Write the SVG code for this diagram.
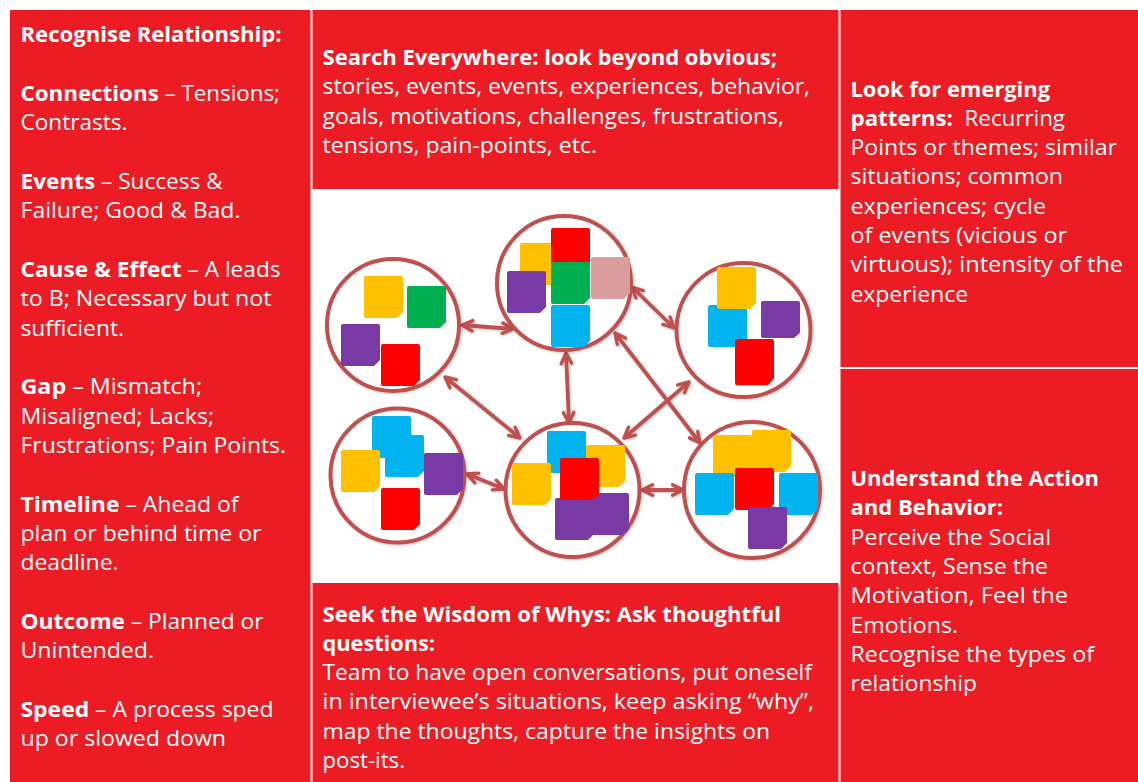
<svg xmlns="http://www.w3.org/2000/svg" xmlns:xlink="http://www.w3.org/1999/xlink" width="1138" height="782" viewBox="0 0 1138 782">
<defs>
<style>
.cell{fill:#ED1C24}
.t{font-family:"Open Sans","Liberation Sans",sans-serif;font-size:22px;fill:#FFFFFF}
.b{font-weight:bold}
.ring{fill:#FFFFFF;stroke:#C0504D;stroke-width:4;filter:url(#sh)}
.arr{fill:none;stroke:#C0504D;stroke-width:3.8;marker-start:url(#ah);marker-end:url(#ah)}
.y{fill:#FFC000}.g{fill:#00B050}.p{fill:#7A3AA6}.r{fill:#FF0000}.bl{fill:#00B4F0}.pk{fill:#DA9C9C}
</style>
<filter id="sh" x="-10%" y="-10%" width="120%" height="120%">
<feDropShadow dx="0.8" dy="0.8" stdDeviation="0.9" flood-color="#000000" flood-opacity="0.25"/>
</filter>
<marker id="ah" viewBox="0 0 14 14" refX="12.5" refY="7" markerWidth="14" markerHeight="14" markerUnits="userSpaceOnUse" orient="auto-start-reverse">
<path d="M2,1.8 L12.5,7 L2,12.2" fill="none" stroke="#C0504D" stroke-width="3.4" stroke-linecap="round" stroke-linejoin="round"/>
</marker>
<path id="note" d="M2,0 H37 Q39,0 39,2 V36 L33,42 H2 Q0,42 0,40 V2 Q0,0 2,0 Z"/>
</defs>
<rect width="1138" height="782" fill="#FFFFFF"/>

<g id="cell-left">
<rect class="cell" x="10" y="10" width="300.5" height="772"/>
<text class="t" x="20.5" y="42" textLength="261" lengthAdjust="spacingAndGlyphs"><tspan class="b">Recognise Relationship:</tspan></text>
<text class="t" x="20.5" y="100.7" textLength="259.5" lengthAdjust="spacingAndGlyphs"><tspan class="b">Connections</tspan> – Tensions;</text>
<text class="t" x="20.5" y="130" textLength="107" lengthAdjust="spacingAndGlyphs">Contrasts.</text>
<text class="t" x="20.5" y="188.8" textLength="202" lengthAdjust="spacingAndGlyphs"><tspan class="b">Events</tspan> – Success &amp;</text>
<text class="t" x="20.5" y="218.1" textLength="220" lengthAdjust="spacingAndGlyphs">Failure; Good &amp; Bad.</text>
<text class="t" x="20.5" y="276.8" textLength="260" lengthAdjust="spacingAndGlyphs"><tspan class="b">Cause &amp; Effect</tspan> – A leads</text>
<text class="t" x="20.5" y="306.2" textLength="251" lengthAdjust="spacingAndGlyphs">to B; Necessary but not</text>
<text class="t" x="20.5" y="335.5" textLength="103.5" lengthAdjust="spacingAndGlyphs">sufficient.</text>
<text class="t" x="20.5" y="394.2" textLength="181.5" lengthAdjust="spacingAndGlyphs"><tspan class="b">Gap</tspan> – Mismatch;</text>
<text class="t" x="20.5" y="423.6" textLength="193.5" lengthAdjust="spacingAndGlyphs">Misaligned; Lacks;</text>
<text class="t" x="20.5" y="452.9" textLength="265.5" lengthAdjust="spacingAndGlyphs">Frustrations; Pain Points.</text>
<text class="t" x="20.5" y="511.6" textLength="218" lengthAdjust="spacingAndGlyphs"><tspan class="b">Timeline</tspan> – Ahead of</text>
<text class="t" x="20.5" y="541" textLength="241" lengthAdjust="spacingAndGlyphs">plan or behind time or</text>
<text class="t" x="20.5" y="570.3" textLength="98" lengthAdjust="spacingAndGlyphs">deadline.</text>
<text class="t" x="20.5" y="629" textLength="243" lengthAdjust="spacingAndGlyphs"><tspan class="b">Outcome</tspan> – Planned or</text>
<text class="t" x="20.5" y="658.4" textLength="133.5" lengthAdjust="spacingAndGlyphs">Unintended.</text>
<text class="t" x="20.5" y="717" textLength="253" lengthAdjust="spacingAndGlyphs"><tspan class="b">Speed</tspan> – A process sped</text>
<text class="t" x="20.5" y="746.4" textLength="205.5" lengthAdjust="spacingAndGlyphs">up or slowed down</text>
</g>

<g id="cell-search">
<rect class="cell" x="312.5" y="10" width="526" height="179"/>
<text class="t" x="322.5" y="65" textLength="454.5" lengthAdjust="spacingAndGlyphs"><tspan class="b">Search Everywhere: look beyond obvious;</tspan></text>
<text class="t" x="322.5" y="94.3" textLength="487.5" lengthAdjust="spacingAndGlyphs">stories, events, events, experiences, behavior,</text>
<text class="t" x="322.5" y="123.6" textLength="461.5" lengthAdjust="spacingAndGlyphs">goals, motivations, challenges, frustrations,</text>
<text class="t" x="322.5" y="153" textLength="274.5" lengthAdjust="spacingAndGlyphs">tensions, pain-points, etc.</text>
</g>

<g id="cell-patterns">
<rect class="cell" x="840.5" y="10" width="297.5" height="357"/>
<text class="t" x="850.5" y="96.5" textLength="199.5" lengthAdjust="spacingAndGlyphs"><tspan class="b">Look for emerging</tspan></text>
<text class="t" x="850.5" y="125.8" textLength="214.5" lengthAdjust="spacingAndGlyphs" xml:space="preserve"><tspan class="b">patterns:</tspan>  Recurring</text>
<text class="t" x="850.5" y="155" textLength="266.5" lengthAdjust="spacingAndGlyphs">Points or themes; similar</text>
<text class="t" x="850.5" y="184.3" textLength="212.5" lengthAdjust="spacingAndGlyphs">situations; common</text>
<text class="t" x="850.5" y="213.6" textLength="195.5" lengthAdjust="spacingAndGlyphs">experiences; cycle</text>
<text class="t" x="850.5" y="242.9" textLength="216.5" lengthAdjust="spacingAndGlyphs">of events (vicious or</text>
<text class="t" x="850.5" y="272.2" textLength="272.5" lengthAdjust="spacingAndGlyphs">virtuous); intensity of the</text>
<text class="t" x="850.5" y="301.5" textLength="117.5" lengthAdjust="spacingAndGlyphs">experience</text>
</g>

<g id="cell-action">
<rect class="cell" x="840.5" y="369" width="297.5" height="413"/>
<text class="t" x="850.5" y="486" textLength="248.5" lengthAdjust="spacingAndGlyphs"><tspan class="b">Understand the Action</tspan></text>
<text class="t" x="850.5" y="515.3" textLength="152.5" lengthAdjust="spacingAndGlyphs"><tspan class="b">and Behavior:</tspan></text>
<text class="t" x="850.5" y="544.6" textLength="200.5" lengthAdjust="spacingAndGlyphs">Perceive the Social</text>
<text class="t" x="850.5" y="574" textLength="197.5" lengthAdjust="spacingAndGlyphs">context, Sense the</text>
<text class="t" x="850.5" y="603.2" textLength="217.5" lengthAdjust="spacingAndGlyphs">Motivation, Feel the</text>
<text class="t" x="850.5" y="632.5" textLength="107.5" lengthAdjust="spacingAndGlyphs">Emotions.</text>
<text class="t" x="850.5" y="661.8" textLength="243.5" lengthAdjust="spacingAndGlyphs">Recognise the types of</text>
<text class="t" x="850.5" y="691.1" textLength="126.5" lengthAdjust="spacingAndGlyphs">relationship</text>
</g>

<g id="cell-whys">
<rect class="cell" x="312.5" y="583" width="526" height="199"/>
<text class="t" x="322.5" y="621.5" textLength="458.5" lengthAdjust="spacingAndGlyphs"><tspan class="b">Seek the Wisdom of Whys: Ask thoughtful</tspan></text>
<text class="t" x="322.5" y="650.8" textLength="112.5" lengthAdjust="spacingAndGlyphs"><tspan class="b">questions:</tspan></text>
<text class="t" x="322.5" y="680.1" textLength="489.5" lengthAdjust="spacingAndGlyphs">Team to have open conversations, put oneself</text>
<text class="t" x="322.5" y="709.4" textLength="491.5" lengthAdjust="spacingAndGlyphs">in interviewee’s situations, keep asking “why”,</text>
<text class="t" x="322.5" y="738.7" textLength="447.5" lengthAdjust="spacingAndGlyphs">map the thoughts, capture the insights on</text>
<text class="t" x="322.5" y="768" textLength="82.5" lengthAdjust="spacingAndGlyphs">post-its.</text>
</g>

<g id="connectors" filter="url(#sh)">
<line class="arr" x1="462" y1="325" x2="513" y2="329"/>
<line class="arr" x1="632" y1="287" x2="674" y2="328"/>
<line class="arr" x1="445" y1="377" x2="520" y2="438"/>
<line class="arr" x1="566" y1="353" x2="569" y2="423"/>
<line class="arr" x1="615" y1="333" x2="700" y2="443"/>
<line class="arr" x1="689" y1="382" x2="624" y2="438"/>
<line class="arr" x1="467" y1="474" x2="504" y2="489"/>
<line class="arr" x1="642" y1="490" x2="683" y2="490"/>
</g>

<g id="cluster-1">
<circle class="ring" cx="393" cy="325" r="66"/>
<use href="#note" class="y" x="364" y="276"/>
<use href="#note" class="g" x="407" y="286"/>
<use href="#note" class="p" x="341" y="324"/>
<use href="#note" class="r" x="381" y="344"/>
</g>

<g id="cluster-2">
<circle class="ring" cx="564" cy="283" r="67"/>
<use href="#note" class="y" x="520" y="243"/>
<use href="#note" class="r" x="551" y="228"/>
<use href="#note" class="p" x="507" y="271"/>
<use href="#note" class="g" x="551" y="262"/>
<use href="#note" class="pk" x="591" y="257"/>
<use href="#note" class="bl" x="551" y="305"/>
</g>

<g id="cluster-3">
<circle class="ring" cx="743.5" cy="330" r="67"/>
<use href="#note" class="bl" x="708" y="305"/>
<use href="#note" class="y" x="717" y="267"/>
<use href="#note" class="p" x="761" y="301" transform="translate(761 301) scale(1 0.88) translate(-761 -301)"/>
<use href="#note" class="r" x="735" y="339" transform="translate(735 339) scale(1 1.1) translate(-735 -339)"/>
</g>

<g id="cluster-4">
<circle class="ring" cx="397.5" cy="475.5" r="67"/>
<use href="#note" class="bl" x="372" y="416"/>
<use href="#note" class="bl" x="385" y="435"/>
<use href="#note" class="y" x="341" y="450"/>
<use href="#note" class="p" x="424" y="453"/>
<use href="#note" class="r" x="381" y="488"/>
</g>

<g id="cluster-5">
<circle class="ring" cx="572.5" cy="490" r="67"/>
<use href="#note" class="bl" x="547" y="431"/>
<use href="#note" class="y" x="586" y="445"/>
<use href="#note" class="y" x="512" y="463"/>
<use href="#note" class="p" x="590" y="493"/>
<use href="#note" class="p" x="555" y="498"/>
<use href="#note" class="r" x="560" y="458"/>
</g>

<g id="cluster-6">
<circle class="ring" cx="752" cy="490" r="68"/>
<use href="#note" class="y" x="713" y="435"/>
<use href="#note" class="y" x="752" y="430"/>
<use href="#note" class="bl" x="695" y="473"/>
<use href="#note" class="bl" x="779" y="473"/>
<use href="#note" class="r" x="735" y="468"/>
<use href="#note" class="p" x="748" y="507"/>
</g>
</svg>
